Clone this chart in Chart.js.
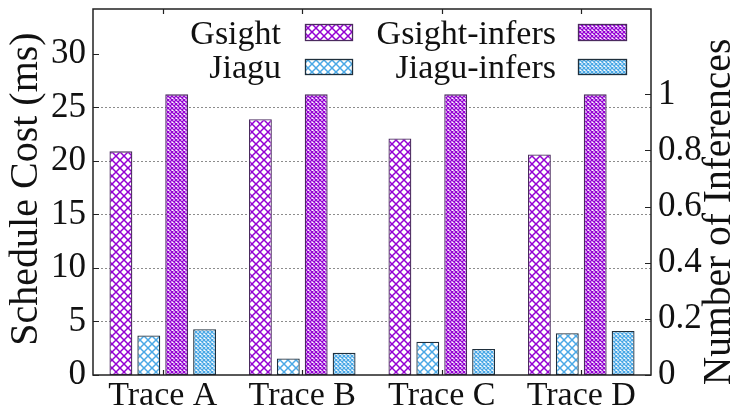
<!DOCTYPE html>
<html>
<head>
<meta charset="utf-8">
<script src="https://cdn.jsdelivr.net/npm/chart.js@4.4.1/dist/chart.umd.min.js"></script>
<style>
  html, body { margin: 0; padding: 0; background: #fff; }
  #wrap { width: 736px; height: 414px; }
</style>
</head>
<body>
<div id="wrap"><canvas id="c" width="736" height="414"></canvas></div>
<script>
// Schedule cost (left axis, ms) and number of inferences (right axis) per trace
const categories = ['Trace A', 'Trace B', 'Trace C', 'Trace D'];
const gsightCost = [20.9, 23.9, 22.1, 20.6];
const jiaguCost = [3.7, 1.55, 3.1, 3.9];
const gsightInfers = [1, 1, 1, 1];
const jiaguInfers = [0.163, 0.079, 0.093, 0.157];

const costTicks = [0, 5, 10, 15, 20, 25, 30];
const costGrid = [5, 10, 15, 20, 25];
const inferTicks = [0, 0.2, 0.4, 0.6, 0.8, 1];
const inferTickLabels = ['0', '0.2', '0.4', '0.6', '0.8', '1'];

const PURPLE = '#9400d3';
const BLUE = '#4aa8e6';
const FONT = '"Liberation Serif", "Times New Roman", serif';

const canvas = document.getElementById('c');
const ctx = canvas.getContext('2d');

// Cross-hatch fill: two diagonal strokes per tile
function hatch(color, size, lw, bg) {
  const t = document.createElement('canvas');
  t.width = size; t.height = size;
  const g = t.getContext('2d');
  g.fillStyle = bg; g.fillRect(0, 0, size, size);
  g.strokeStyle = color; g.lineWidth = lw;
  g.beginPath();
  g.moveTo(-1, -1); g.lineTo(size + 1, size + 1);
  g.moveTo(-1, size + 1); g.lineTo(size + 1, -1);
  g.stroke();
  return ctx.createPattern(t, 'repeat');
}

const fills = {
  gsight: hatch(PURPLE, 8, 1.5, '#ffffff'),
  jiagu: hatch(BLUE, 8, 1.5, '#ffffff'),
  gsightInfers: hatch(PURPLE, 4, 1.3, '#ffffff'),
  jiaguInfers: hatch(BLUE, 4, 1.3, '#ffffff')
};
const edges = { purple: '#4a2a5e', blue: '#1f2f3c' };

function drawText(c, str, x, y, o) {
  c.save();
  c.translate(x, y);
  if (o.rot) c.rotate(-Math.PI / 2);
  c.font = o.size + 'px ' + FONT;
  c.textAlign = o.align || 'center';
  c.textBaseline = o.base || 'alphabetic';
  c.fillStyle = '#111';
  c.fillText(str, 0, 0);
  c.restore();
}

const legendItems = [
  { label: 'Gsight', fill: fills.gsight, edge: edges.purple, tx: 281, bx: 305, bw: 48, by: 24, bh: 17, ty: 44 },
  { label: 'Gsight-infers', fill: fills.gsightInfers, edge: edges.purple, tx: 556, bx: 578, bw: 49, by: 24, bh: 17, ty: 44 },
  { label: 'Jiagu', fill: fills.jiagu, edge: edges.blue, tx: 281, bx: 305, bw: 48, by: 59, bh: 16, ty: 78 },
  { label: 'Jiagu-infers', fill: fills.jiaguInfers, edge: edges.blue, tx: 556, bx: 578, bw: 49, by: 59, bh: 16, ty: 78 }
];

const framePlugin = {
  id: 'frame',
  beforeDatasetsDraw(chart) {
    const c = chart.ctx, a = chart.chartArea, y = chart.scales.y;
    c.save();
    c.strokeStyle = '#8c8c8c';
    c.lineWidth = 1;
    c.setLineDash([2, 2]);
    costGrid.forEach(v => {
      const py = Math.round(y.getPixelForValue(v)) + 0.5;
      c.beginPath(); c.moveTo(a.left, py); c.lineTo(a.right, py); c.stroke();
    });
    c.restore();
  },
  afterDatasetsDraw(chart) {
    const c = chart.ctx, a = chart.chartArea;
    const x = chart.scales.x, y = chart.scales.y, y2 = chart.scales.y2;
    c.save();
    c.strokeStyle = '#222';
    c.lineWidth = 1.5;
    c.strokeRect(a.left, a.top, a.right - a.left, a.bottom - a.top);

    // inward tick marks
    c.lineWidth = 1.2;
    c.beginPath();
    costTicks.forEach(v => {
      const py = Math.round(y.getPixelForValue(v)) + 0.5;
      c.moveTo(a.left, py); c.lineTo(a.left + 6, py);
    });
    inferTicks.forEach(v => {
      const py = Math.round(y2.getPixelForValue(v)) + 0.5;
      c.moveTo(a.right, py); c.lineTo(a.right - 6, py);
    });
    categories.forEach((_, i) => {
      const px = Math.round(x.getPixelForValue(i)) + 0.5;
      c.moveTo(px, a.bottom); c.lineTo(px, a.bottom - 5);
      c.moveTo(px, a.top); c.lineTo(px, a.top + 5);
    });
    c.stroke();
    c.restore();

    // tick labels
    costTicks.forEach(v => drawText(c, String(v), 86, y.getPixelForValue(v), { size: 35, align: 'right', base: 'middle' }));
    inferTicks.forEach((v, i) => drawText(c, inferTickLabels[i], 658, y2.getPixelForValue(v), { size: 35, align: 'left', base: 'middle' }));
    categories.forEach((lab, i) => drawText(c, lab, x.getPixelForValue(i), 405, { size: 34, align: 'center' }));

    // axis titles
    drawText(c, 'Schedule Cost (ms)', 26, 189, { size: 40, rot: true, align: 'center', base: 'middle' });
    drawText(c, 'Number of Inferences', 720, 212, { size: 39.5, rot: true, align: 'center', base: 'middle' });

    // key
    legendItems.forEach(it => {
      drawText(c, it.label, it.tx, it.ty, { size: 34, align: 'right' });
      c.save();
      c.fillStyle = it.fill;
      c.fillRect(it.bx, it.by, it.bw, it.bh);
      c.strokeStyle = it.edge;
      c.lineWidth = 1.3;
      c.strokeRect(it.bx + 0.5, it.by + 0.5, it.bw - 1, it.bh - 1);
      c.restore();
    });
  }
};

const barStyle = { borderWidth: 1.3, borderSkipped: false };

new Chart(ctx, {
  type: 'bar',
  data: {
    labels: categories,
    datasets: [
      Object.assign({ label: 'Gsight', data: gsightCost, yAxisID: 'y', backgroundColor: fills.gsight, borderColor: edges.purple }, barStyle),
      Object.assign({ label: 'Jiagu', data: jiaguCost, yAxisID: 'y', backgroundColor: fills.jiagu, borderColor: edges.blue }, barStyle),
      Object.assign({ label: 'Gsight-infers', data: gsightInfers, yAxisID: 'y2', backgroundColor: fills.gsightInfers, borderColor: edges.purple }, barStyle),
      Object.assign({ label: 'Jiagu-infers', data: jiaguInfers, yAxisID: 'y2', backgroundColor: fills.jiaguInfers, borderColor: edges.blue }, barStyle)
    ]
  },
  options: {
    responsive: false,
    animation: false,
    devicePixelRatio: 1,
    layout: { padding: { top: 9, left: 0, right: 0, bottom: 0 } },
    datasets: { bar: { categoryPercentage: 0.8, barPercentage: 0.82 } },
    plugins: { legend: { display: false }, tooltip: { enabled: false }, title: { display: false } },
    scales: {
      x: {
        grid: { display: false }, border: { display: false }, ticks: { display: false },
        afterFit(s) { s.height = 39; }
      },
      y: {
        position: 'left', min: 0, max: 34.2,
        grid: { display: false }, border: { display: false }, ticks: { display: false },
        afterBuildTicks(s) { s.ticks = costTicks.map(v => ({ value: v })); },
        afterFit(s) { s.width = 93; }
      },
      y2: {
        position: 'right', min: 0, max: 1.304,
        grid: { display: false }, border: { display: false }, ticks: { display: false },
        afterBuildTicks(s) { s.ticks = inferTicks.map(v => ({ value: v })); },
        afterFit(s) { s.width = 85; }
      }
    }
  },
  plugins: [framePlugin]
});
</script>
</body>
</html>
